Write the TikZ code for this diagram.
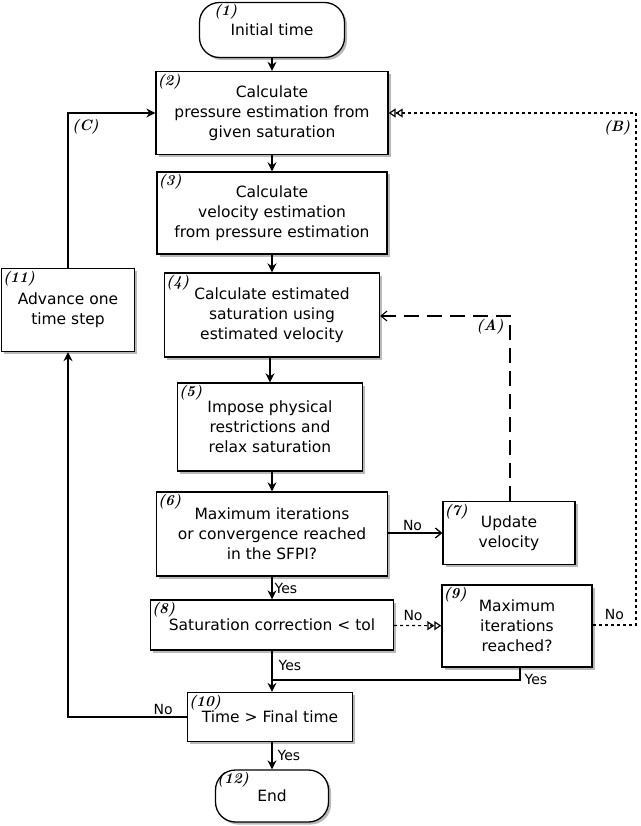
\documentclass[tikz,border=0pt]{standalone}
\usepackage{fontspec}
\setmainfont{DejaVu Sans}
\newfontfamily\lblfont{Latin Modern Roman}
\usetikzlibrary{arrows.meta,shadows}
\begin{document}
\begin{tikzpicture}[x=1pt,y=-1pt,
  every node/.style={font=\fontsize{15.5}{20}\selectfont},
  box/.style={draw,line width=1.3pt,fill=white,align=center,inner sep=0pt,
    drop shadow={shadow xshift=2.5pt,shadow yshift=-2.5pt,fill=gray!55,opacity=1}},
  term/.style={box,rounded corners=20pt},
  num/.style={font=\lblfont\fontsize{15}{15}\selectfont\bfseries\itshape,anchor=north west,inner sep=1pt},
  lab/.style={font=\fontsize{14}{14}\selectfont,inner sep=2pt},
  pathtag/.style={font=\lblfont\fontsize{15}{15}\selectfont\bfseries\itshape,inner sep=2pt},
  flow/.style={line width=1.3pt,-{Stealth[length=9pt,width=9pt]}},
  dotflow/.style={line width=1.2pt,dash pattern=on 3pt off 3pt,-{Triangle[open,length=7pt,width=9pt]Triangle[open,length=7pt,width=9pt]}},
  dashflow/.style={line width=1.1pt,dash pattern=on 15pt off 8pt,-{Straight Barb[length=6pt,width=10pt]}}]
\useasboundingbox (0,0) rectangle (640,826);

\node[term,minimum width=145pt,minimum height=55pt] (n1) at (272,30) {\raisebox{-4pt}{Initial time}};
\node[box,minimum width=232pt,minimum height=83pt] (n2) at (272,113) {Calculate\\pressure estimation from\\given saturation};
\node[box,minimum width=230pt,minimum height=82pt] (n3) at (272,213) {Calculate\\velocity estimation\\from pressure estimation};
\node[box,minimum width=215pt,minimum height=84pt] (n4) at (272,315) {Calculate estimated\\saturation using\\estimated velocity};
\node[box,minimum width=185pt,minimum height=88pt] (n5) at (270,427) {Impose physical\\restrictions and\\relax saturation};
\node[box,minimum width=231pt,minimum height=84pt] (n6) at (272,534) {Maximum iterations\\or convergence reached\\in the SFPI?};
\node[box,minimum width=132pt,minimum height=63pt] (n7) at (509,533) {Update\\velocity};
\node[box,minimum width=243pt,minimum height=50pt] (n8) at (272,625) {\raisebox{-2pt}{Saturation correction < tol}};
\node[box,minimum width=150pt,minimum height=82pt] (n9) at (517,626) {Maximum\\iterations\\reached?};
\node[box,minimum width=165pt,minimum height=49pt] (n10) at (270,717) {Time > Final time};
\node[box,minimum width=133pt,minimum height=83pt] (n11) at (68,310) {Advance one\\time step};
\node[term,minimum width=113pt,minimum height=52pt] (n12) at (272,796) {\raisebox{-4pt}{End}};

\node[num] at ([xshift=14pt,yshift=-1pt]n1.north west) {(1)};
\foreach \n/\t in {n2/(2),n3/(3),n4/(4),n5/(5),n6/(6),n7/(7),n8/(8),n9/(9),n10/(10),n11/(11),n12/(12)}
  \node[num] at ([xshift=1pt,yshift=-2pt]\n.north west) {\t};

\coordinate (m) at (272,680);
\coordinate (c1) at (68,113);
\coordinate (a1) at (510,316);
\coordinate (b1) at (636,625);
\coordinate (b2) at (636,113);
\coordinate (d1) at (68,717);
\coordinate (e1) at (520,680);

\draw[flow] (n1) -- (n2);
\draw[flow] (n2) -- (n3);
\draw[flow] (n3) -- (n4);
\draw[flow] (n4.south-|n5) -- (n5);
\draw[flow] (n5.south-|n6) -- (n6);
\draw[flow] (n6) -- node[lab,right]{Yes} (n8);
\draw[line width=1.3pt] (n8) -- node[lab,right,pos=0.5,xshift=4pt]{Yes} (m);
\draw[line width=1.3pt] (n9.south-|e1) -- (e1) -- node[lab,right,pos=0,xshift=2pt,yshift=1pt]{Yes} (m);
\draw[flow] (m) -- (n10.north-|m);
\draw[flow] (n10.south-|m) -- node[lab,right,xshift=3pt]{Yes} (n12.north-|m);
\draw[flow] (n10) -- node[lab,above,pos=0.2]{No} (d1) -- (n11);
\draw[flow] (n11) -- (c1) -- node[pathtag,below,pos=0.2,yshift=-4pt]{(C)} (n2);
\draw[flow,-{Straight Barb[length=6pt,width=10pt]}] (n6.east|-n7) -- node[lab,above,pos=0.45]{No} (n7);
\draw[dashflow] (n7.north-|a1) -- (a1) -- (n4.east|-a1);
\node[pathtag] at (490,327) {(A)};
\draw[dotflow] (n8) -- node[lab,above,pos=0.4,yshift=2pt]{No} (n9);
\draw[dotflow] (n9.east|-b1) -- node[lab,above,pos=0.5,yshift=3pt]{No} (b1) -- (b2) -- (n2);
\node[pathtag] at (617,128) {(B)};
\end{tikzpicture}
\end{document}
